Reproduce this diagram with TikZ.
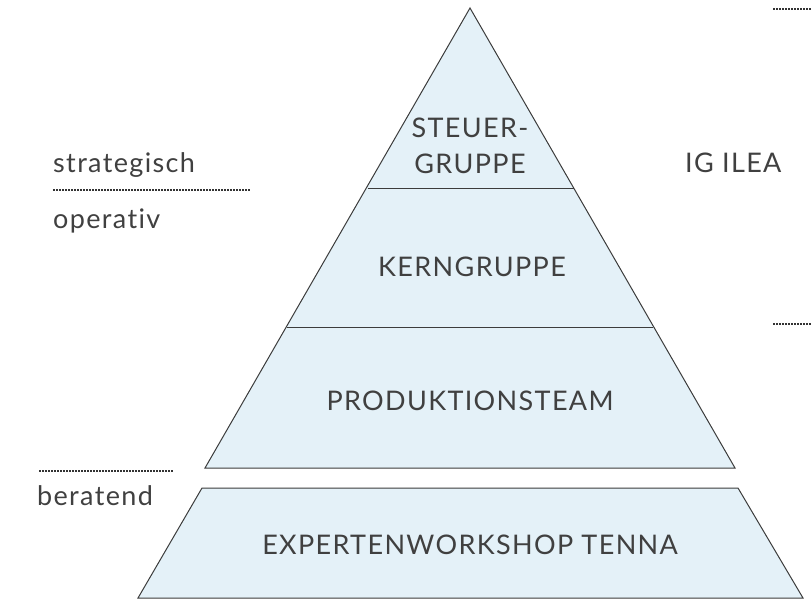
\documentclass[tikz,border=0pt]{standalone}
\usepackage{fontspec}
\setmainfont{Lato}[LetterSpace=5,Ligatures=NoCommon]
\definecolor{txt}{HTML}{404040}
\definecolor{edge}{HTML}{3C3C3C}
\definecolor{fillb}{HTML}{E4F1F8}
\begin{document}
\begin{tikzpicture}[x=1pt,y=-1pt,
  layer/.style={draw=edge,fill=fillb,line width=1pt,line join=miter},
  lbl/.style={text=txt,font=\fontsize{27}{35}\selectfont,inner sep=0pt,anchor=base},
  side/.style={text=txt,font=\fontsize{27}{30}\selectfont,inner sep=0pt,anchor=base west},
  dots/.style={draw=black!80,line width=1.5pt,dash pattern=on 1.5pt off 1.5pt}]
\useasboundingbox (0,0) rectangle (811,607);
% pyramid
\coordinate (apex) at (470,8);
\coordinate (bl) at (205,468);
\coordinate (br) at (735,468);
\path[layer] (apex) -- (bl) -- (br) -- cycle;
\path[layer] (367.5,188) -- (573.5,188);
\path[layer] (287,327) -- (653,327);
% trapezoid
\path[layer] (202,488) -- (738,488) -- (803,598) -- (138,598) -- cycle;
% labels
\node[lbl] (steuer) at (470,138) {STEUER-};
\node[lbl] (gruppe) at (470,173) {GRUPPE};
\node[lbl] (kern) at (472,276) {KERNGRUPPE};
\node[lbl] (prod) at (470,410) {PRODUKTIONSTEAM};
\node[lbl] (expert) at (470,554) {EXPERTENWORKSHOP TENNA};
\node[side] (strat) at (53,172) {strategisch};
\node[side] (oper) at (53,228) {operativ};
\node[side] (berat) at (37,505) {beratend};
\node[side] (ig) at (685,172) {IG ILEA};
% dotted separators
\coordinate (d1a) at (53,190); \coordinate (d1b) at (250,190);
\coordinate (d2a) at (39,471); \coordinate (d2b) at (173,471);
\coordinate (d3a) at (773,9); \coordinate (d3b) at (811,9);
\coordinate (d4a) at (773,324); \coordinate (d4b) at (811,324);
\draw[dots] (d1a) -- (d1b);
\draw[dots] (d2a) -- (d2b);
\draw[dots] (d3a) -- (d3b);
\draw[dots] (d4a) -- (d4b);
\end{tikzpicture}
\end{document}
